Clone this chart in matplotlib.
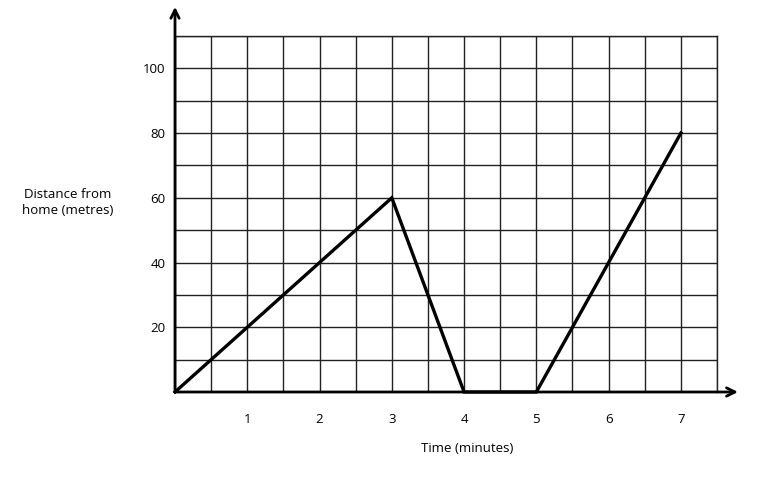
import numpy as np
import matplotlib.pyplot as plt

# journey data
time_min = [0, 3, 4, 5, 7]
distance_m = [0, 60, 0, 0, 80]

x_ticks = [1, 2, 3, 4, 5, 6, 7]
y_ticks = [20, 40, 60, 80, 100]

plt.rcParams['font.family'] = ['Open Sans', 'DejaVu Sans']

fig = plt.figure(figsize=(7.59, 4.78), dpi=100)
ax = fig.add_axes([175 / 759, 86 / 478, 542 / 759, 356 / 478])
ax.set_xlim(0, 7.5)
ax.set_ylim(0, 110)

# grid every half minute / 10 metres
ax.set_xticks(x_ticks)
ax.set_xticks(np.arange(0, 7.6, 0.5), minor=True)
ax.set_yticks(y_ticks)
ax.set_yticks(np.arange(0, 111, 10), minor=True)
ax.grid(which='both', color='#222222', linewidth=1.0)
ax.set_axisbelow(True)
ax.tick_params(which='both', length=0)
ax.tick_params(axis='x', pad=15, labelsize=9.5)
ax.tick_params(axis='y', pad=7, labelsize=9.5)

for side in ['top', 'right']:
    ax.spines[side].set_linewidth(1.0)
    ax.spines[side].set_color('#222222')
for side in ['left', 'bottom']:
    ax.spines[side].set_visible(False)

# axis arrows
ax.annotate('', xy=(0, 119), xytext=(0, 0),
            arrowprops=dict(arrowstyle='->,head_length=0.6,head_width=0.3',
                            lw=2, color='black', shrinkA=0, shrinkB=0),
            annotation_clip=False)
ax.annotate('', xy=(7.79, 0), xytext=(0, 0),
            arrowprops=dict(arrowstyle='->,head_length=0.6,head_width=0.3',
                            lw=2, color='black', shrinkA=0, shrinkB=0),
            annotation_clip=False)

ax.plot(time_min, distance_m, color='black', linewidth=2.4,
        solid_joinstyle='miter', clip_on=False, zorder=5)

ax.text(4.04, -17.5, 'Time (minutes)', ha='center', va='center', fontsize=9.5)
ax.text(-1.49, 58.5, 'Distance from\nhome (metres)', ha='center', va='center',
        fontsize=9.5, linespacing=1.3)

fig.savefig('out.png', dpi=100)
